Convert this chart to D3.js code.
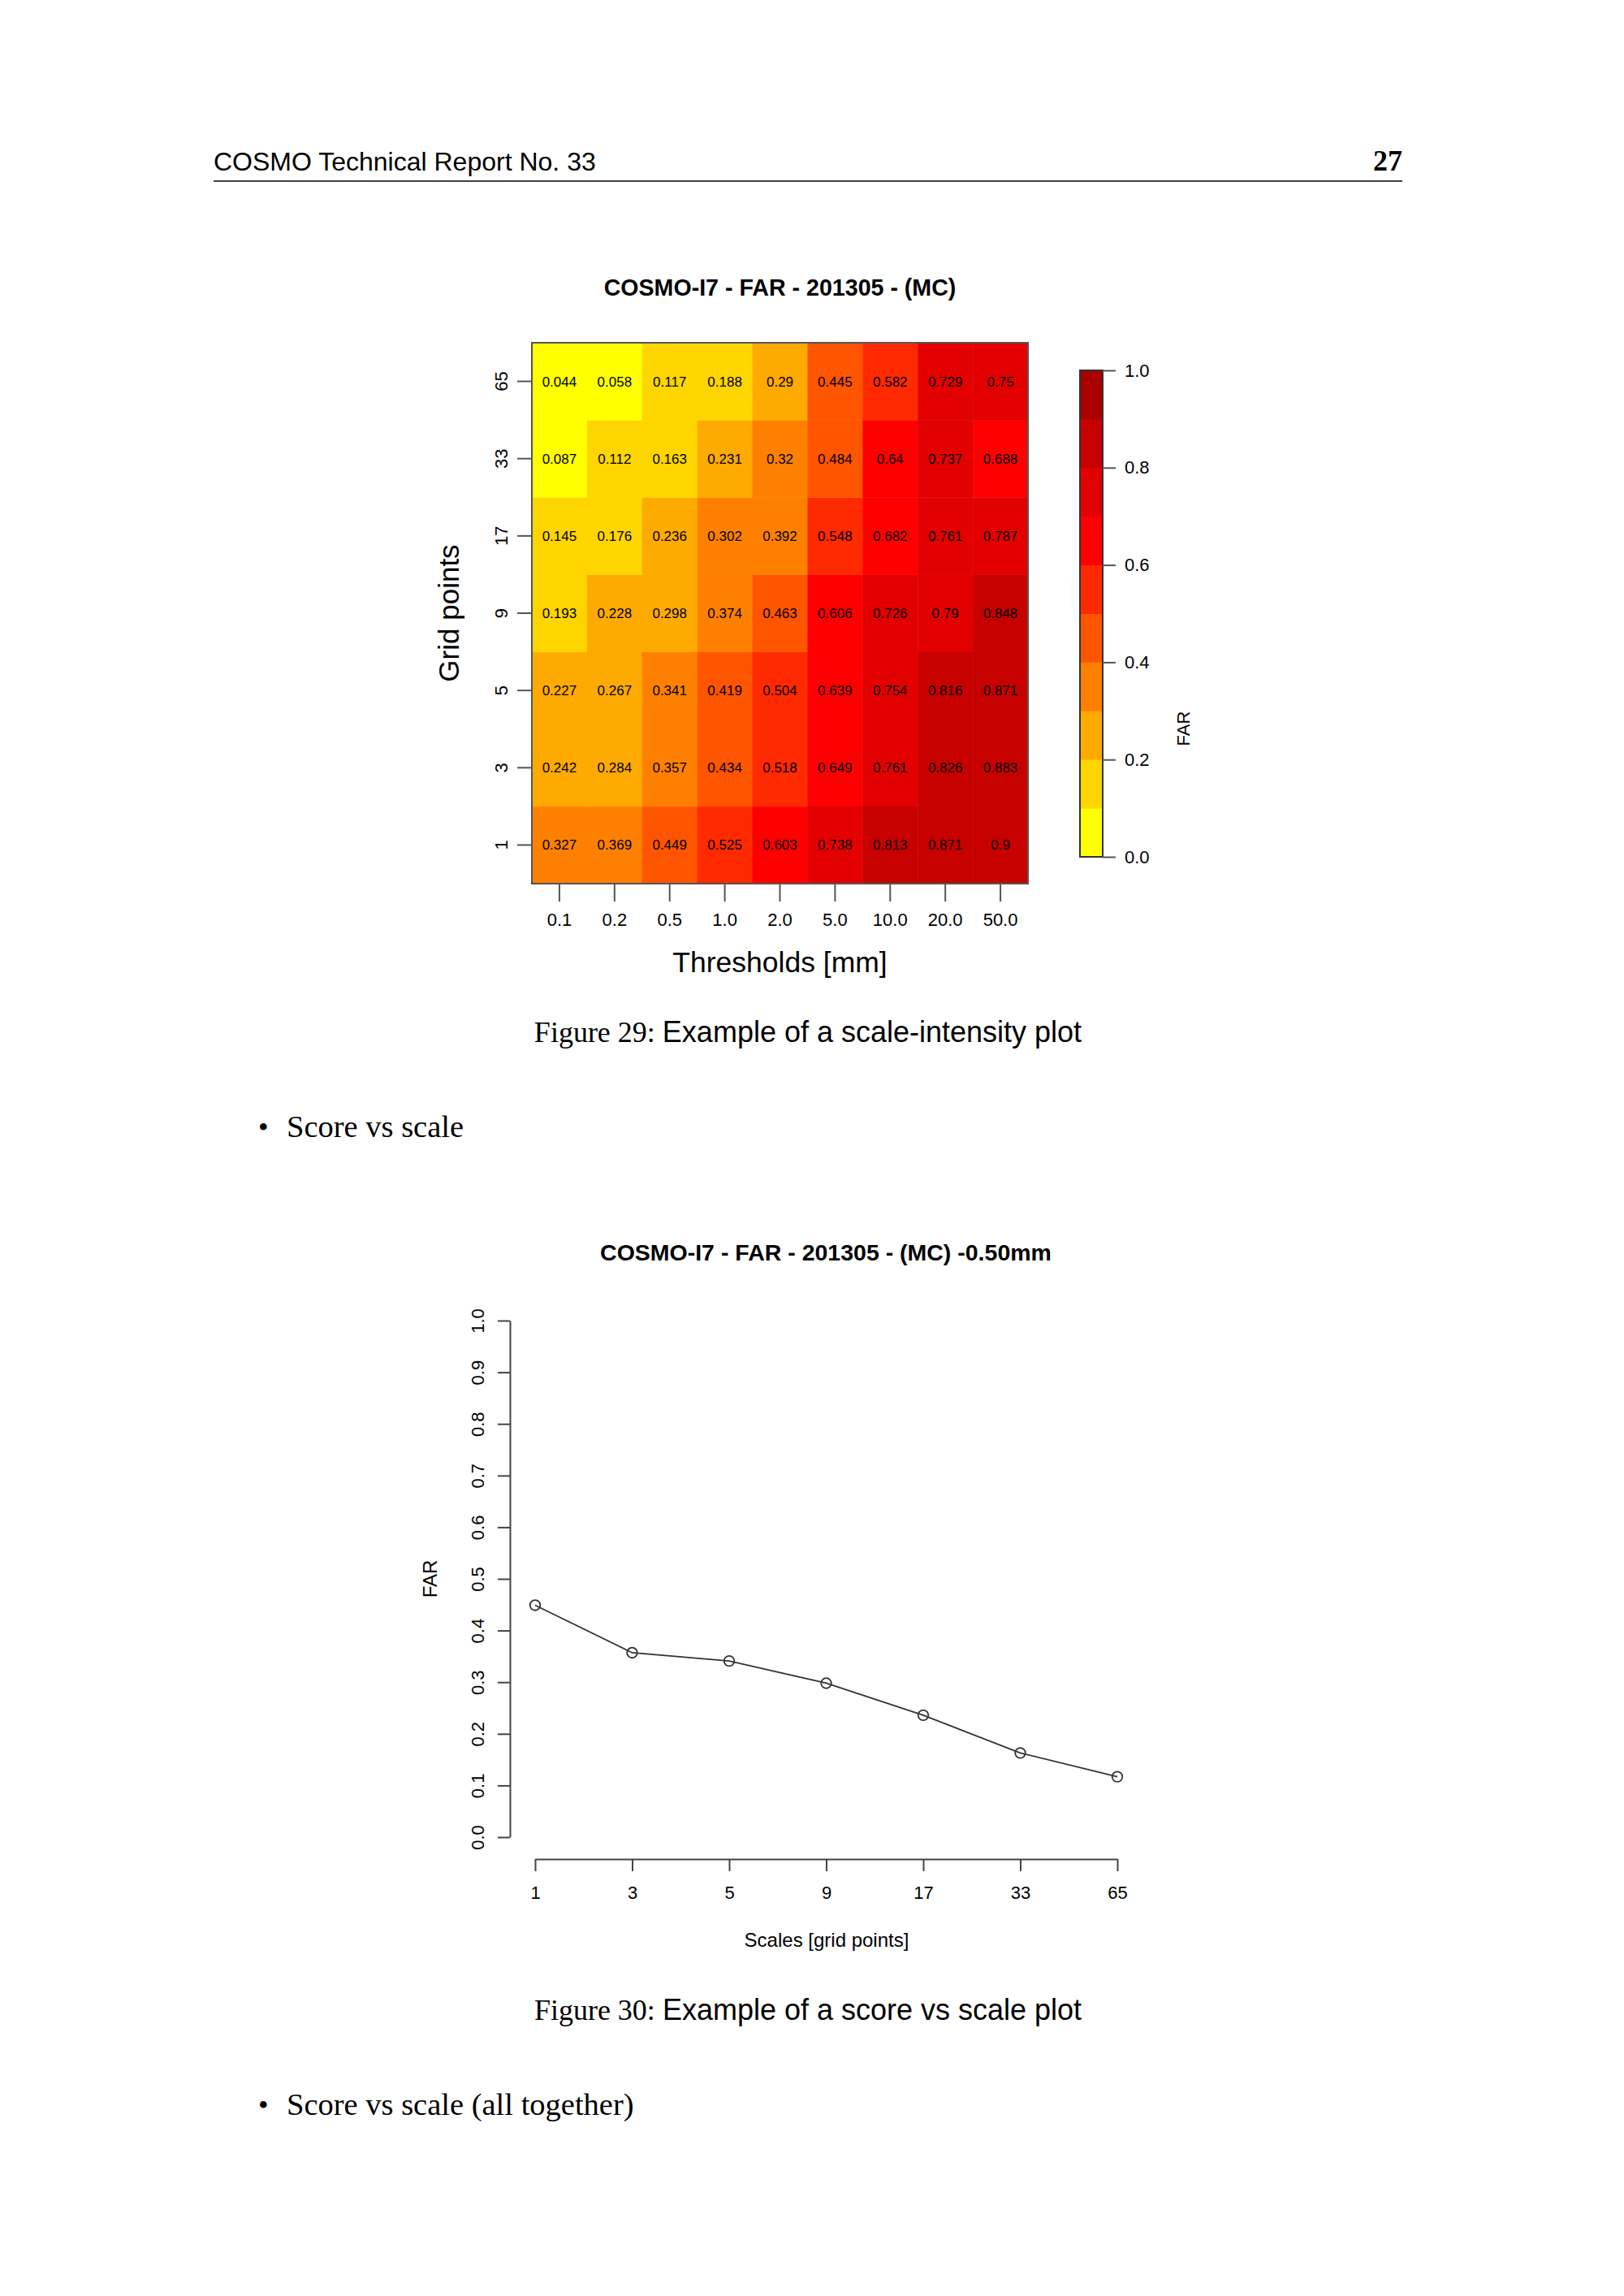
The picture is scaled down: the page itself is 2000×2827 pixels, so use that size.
<!DOCTYPE html>
<html>
<head>
<meta charset="utf-8">
<script src="https://cdn.jsdelivr.net/npm/d3@7"></script>
<style>
  body { margin: 0; background: #fff; }
  svg text { fill: #000; }
</style>
</head>
<body>
<div id="page"></div>
<script>
var width = 2000,
  height = 2827

// thresholds [mm] (columns) and scales [grid points] (rows)
var thresholds = ["0.1", "0.2", "0.5", "1.0", "2.0", "5.0", "10.0", "20.0", "50.0"]
var scales = [1, 3, 5, 9, 17, 33, 65]

// FAR per scale, one value per threshold
var far1 = [0.327, 0.369, 0.449, 0.525, 0.603, 0.738, 0.813, 0.871, 0.9]
var far3 = [0.242, 0.284, 0.357, 0.434, 0.518, 0.649, 0.761, 0.826, 0.883]
var far5 = [0.227, 0.267, 0.341, 0.419, 0.504, 0.639, 0.754, 0.816, 0.871]
var far9 = [0.193, 0.228, 0.298, 0.374, 0.463, 0.606, 0.726, 0.79, 0.848]
var far17 = [0.145, 0.176, 0.236, 0.302, 0.392, 0.548, 0.682, 0.761, 0.787]
var far33 = [0.087, 0.112, 0.163, 0.231, 0.32, 0.484, 0.64, 0.737, 0.688]
var far65 = [0.044, 0.058, 0.117, 0.188, 0.29, 0.445, 0.582, 0.729, 0.75]

var farRows = [far1, far3, far5, far9, far17, far33, far65]

// colour bins of the key
var breaks = [0.1, 0.2, 0.3, 0.4, 0.5, 0.6, 0.7, 0.8, 0.9]
var binColours = ["#ffff00", "#ffd500", "#ffaa00", "#ff8000", "#ff5500",
  "#ff2a00", "#ff0000", "#e30000", "#c70000", "#aa0000"]
var keyTicks = [0, 0.2, 0.4, 0.6, 0.8, 1.0]

// score vs scale uses the 0.5 mm column
var lineThreshold = "0.5"
var lineTicks = [0, 0.1, 0.2, 0.3, 0.4, 0.5, 0.6, 0.7, 0.8, 0.9, 1.0]

var sans = "'Liberation Sans', Arial, sans-serif",
  serif = "'Liberation Serif', 'DejaVu Serif', serif"

// intervals closed on the right, like R's image()
function binColour(v) {
  return binColours[d3.bisectLeft(breaks, v)]
}

var svg = d3.select("#page").append("svg")
  .attr("width", width)
  .attr("height", height)

svg.append("rect").attr("width", width).attr("height", height).attr("fill", "#fff")

// ---- page furniture ----
svg.append("text")
  .attr("x", 263).attr("y", 210)
  .style("font-family", sans).style("font-size", "32px")
  .text("COSMO Technical Report No. 33")

svg.append("text")
  .attr("x", 1727).attr("y", 210)
  .attr("text-anchor", "end")
  .style("font-family", serif).style("font-size", "36px").style("font-weight", "bold")
  .text("27")

svg.append("line")
  .attr("x1", 263).attr("x2", 1727).attr("y1", 223).attr("y2", 223)
  .attr("stroke", "#000").attr("stroke-width", 1.6)

function caption(y, num, rest) {
  var t = svg.append("text")
    .attr("x", 995).attr("y", y)
    .attr("text-anchor", "middle")
    .style("font-size", "36px")
  t.append("tspan").style("font-family", serif).text("Figure " + num + ": ")
  t.append("tspan").style("font-family", sans).text(rest)
}

function bullet(y, txt) {
  svg.append("text")
    .attr("x", 318).attr("y", y)
    .style("font-family", serif).style("font-size", "36px")
    .text("\u2022")
  svg.append("text")
    .attr("x", 353).attr("y", y)
    .style("font-family", serif).style("font-size", "38.5px")
    .text(txt)
}

caption(1283, 29, "Example of a scale-intensity plot")
bullet(1400, "Score vs scale")
caption(2487, 30, "Example of a score vs scale plot")
bullet(2604, "Score vs scale (all together)")

// ---- figure 29: scale-intensity heat map ----
var hm = {left: 655, right: 1266, top: 422, bottom: 1088}

var x = d3.scaleBand().domain(thresholds).range([hm.left, hm.right])
var y = d3.scaleBand().domain(scales).range([hm.bottom, hm.top])

var cells = []
farRows.forEach(function(row, i) {
  row.forEach(function(v, j) {
    cells.push({scale: scales[i], threshold: thresholds[j], value: v})
  })
})

var fmt = function(v) { return String(+v.toFixed(3)) }

svg.append("g").selectAll("rect")
  .data(cells)
  .enter()
  .append("rect")
  .attr("x", function(d) { return x(d.threshold) })
  .attr("y", function(d) { return y(d.scale) })
  .attr("width", x.bandwidth() + 0.5)
  .attr("height", y.bandwidth() + 0.5)
  .attr("fill", function(d) { return binColour(d.value) })

svg.append("g").selectAll("text")
  .data(cells)
  .enter()
  .append("text")
  .attr("x", function(d) { return x(d.threshold) + x.bandwidth() / 2 })
  .attr("y", function(d) { return y(d.scale) + y.bandwidth() / 2 })
  .attr("dy", "0.35em")
  .attr("text-anchor", "middle")
  .style("font-family", sans).style("font-size", "17px")
  .text(function(d) { return fmt(d.value) })

svg.append("rect")
  .attr("x", hm.left).attr("y", hm.top)
  .attr("width", hm.right - hm.left).attr("height", hm.bottom - hm.top)
  .attr("fill", "none").attr("stroke", "#555").attr("stroke-width", 2)

var xAxis = svg.append("g")
  .attr("transform", "translate(0," + hm.bottom + ")")
  .call(d3.axisBottom(x).tickSize(22).tickSizeOuter(0).tickPadding(14))
xAxis.select(".domain").remove()

var yAxis = svg.append("g")
  .attr("transform", "translate(" + hm.left + ",0)")
  .call(d3.axisLeft(y).tickSize(18).tickSizeOuter(0).tickPadding(0))
yAxis.select(".domain").remove()
// rotated labels: centred on the tick, sitting left of it
yAxis.selectAll(".tick text")
  .attr("transform", "rotate(-90)")
  .attr("text-anchor", "middle")
  .attr("x", 0).attr("y", -30).attr("dy", 0)

;[xAxis, yAxis].forEach(function(a) {
  a.selectAll("line").attr("stroke", "#555").attr("stroke-width", 2)
  a.selectAll("text").style("font-family", sans).style("font-size", "22px").attr("fill", "#000")
})

svg.append("text")
  .attr("x", (hm.left + hm.right) / 2).attr("y", 364)
  .attr("text-anchor", "middle")
  .style("font-family", sans).style("font-size", "28.6px").style("font-weight", "bold")
  .text("COSMO-I7 - FAR - 201305 - (MC)")

svg.append("text")
  .attr("x", (hm.left + hm.right) / 2).attr("y", 1197)
  .attr("text-anchor", "middle")
  .style("font-family", sans).style("font-size", "35.5px")
  .text("Thresholds [mm]")

svg.append("text")
  .attr("transform", "translate(565," + ((hm.top + hm.bottom) / 2) + ") rotate(-90)")
  .attr("text-anchor", "middle")
  .style("font-family", sans).style("font-size", "35px")
  .text("Grid points")

// colour key
var key = {left: 1330, right: 1358, top: 456, bottom: 1055}
var k = d3.scaleLinear().domain([0, 1]).range([key.bottom, key.top])
var keyBins = binColours.map(function(c, i) {
  return {lo: i === 0 ? 0 : breaks[i - 1], hi: i === breaks.length ? 1 : breaks[i], colour: c}
})

svg.append("g").selectAll("rect")
  .data(keyBins)
  .enter()
  .append("rect")
  .attr("x", key.left)
  .attr("width", key.right - key.left)
  .attr("y", function(d) { return k(d.hi) })
  .attr("height", function(d) { return k(d.lo) - k(d.hi) + 0.5 })
  .attr("fill", function(d) { return d.colour })

svg.append("rect")
  .attr("x", key.left).attr("y", key.top)
  .attr("width", key.right - key.left).attr("height", key.bottom - key.top)
  .attr("fill", "none").attr("stroke", "#333").attr("stroke-width", 2)

var keyAxis = svg.append("g")
  .attr("transform", "translate(" + key.right + ",0)")
  .call(d3.axisRight(k).tickValues(keyTicks).tickFormat(d3.format(".1f"))
    .tickSize(16).tickSizeOuter(0).tickPadding(11))
keyAxis.select(".domain").remove()
keyAxis.selectAll("line").attr("stroke", "#555").attr("stroke-width", 2)
keyAxis.selectAll("text").style("font-family", sans).style("font-size", "22px").attr("fill", "#000")

svg.append("text")
  .attr("transform", "translate(1465,897) rotate(-90)")
  .attr("text-anchor", "middle")
  .style("font-family", sans).style("font-size", "22px")
  .text("FAR")

// ---- figure 30: score vs scale ----
var col = thresholds.indexOf(lineThreshold)
var linePoints = scales.map(function(s, i) { return {scale: s, value: farRows[i][col]} })

var lx = d3.scalePoint().domain(scales).range([659, 1376])
var ly = d3.scaleLinear().domain([0, 1]).range([2262, 1626])

svg.append("text")
  .attr("x", 1017).attr("y", 1552)
  .attr("text-anchor", "middle")
  .style("font-family", sans).style("font-size", "28.5px").style("font-weight", "bold")
  .text("COSMO-I7 - FAR - 201305 - (MC) -0.50mm")

var lyAxis = svg.append("g")
  .attr("transform", "translate(628,0)")
  .call(d3.axisLeft(ly).tickValues(lineTicks).tickFormat(d3.format(".1f"))
    .tickSize(15).tickSizeOuter(0).tickPadding(0))
lyAxis.selectAll(".tick text")
  .attr("transform", "rotate(-90)")
  .attr("text-anchor", "middle")
  .attr("x", 0).attr("y", -32).attr("dy", 0)

var lxAxis = svg.append("g")
  .attr("transform", "translate(0,2289)")
  .call(d3.axisBottom(lx).tickSize(15).tickSizeOuter(0).tickPadding(18))

;[lxAxis, lyAxis].forEach(function(a) {
  a.selectAll("line, path").attr("stroke", "#444").attr("stroke-width", 2)
  a.selectAll("text").style("font-family", sans).style("font-size", "22px").attr("fill", "#000")
})

svg.append("path")
  .datum(linePoints)
  .attr("fill", "none")
  .attr("stroke", "#333")
  .attr("stroke-width", 1.8)
  .attr("d", d3.line()
    .x(function(d) { return lx(d.scale) })
    .y(function(d) { return ly(d.value) }))

svg.append("g").selectAll("circle")
  .data(linePoints)
  .enter()
  .append("circle")
  .attr("cx", function(d) { return lx(d.scale) })
  .attr("cy", function(d) { return ly(d.value) })
  .attr("r", 6.3)
  .attr("fill", "none")
  .attr("stroke", "#333")
  .attr("stroke-width", 1.8)

svg.append("text")
  .attr("x", 1018).attr("y", 2397)
  .attr("text-anchor", "middle")
  .style("font-family", sans).style("font-size", "24px")
  .text("Scales [grid points]")

svg.append("text")
  .attr("transform", "translate(538,1944) rotate(-90)")
  .attr("text-anchor", "middle")
  .style("font-family", sans).style("font-size", "24px")
  .text("FAR")
</script>
</body>
</html>
